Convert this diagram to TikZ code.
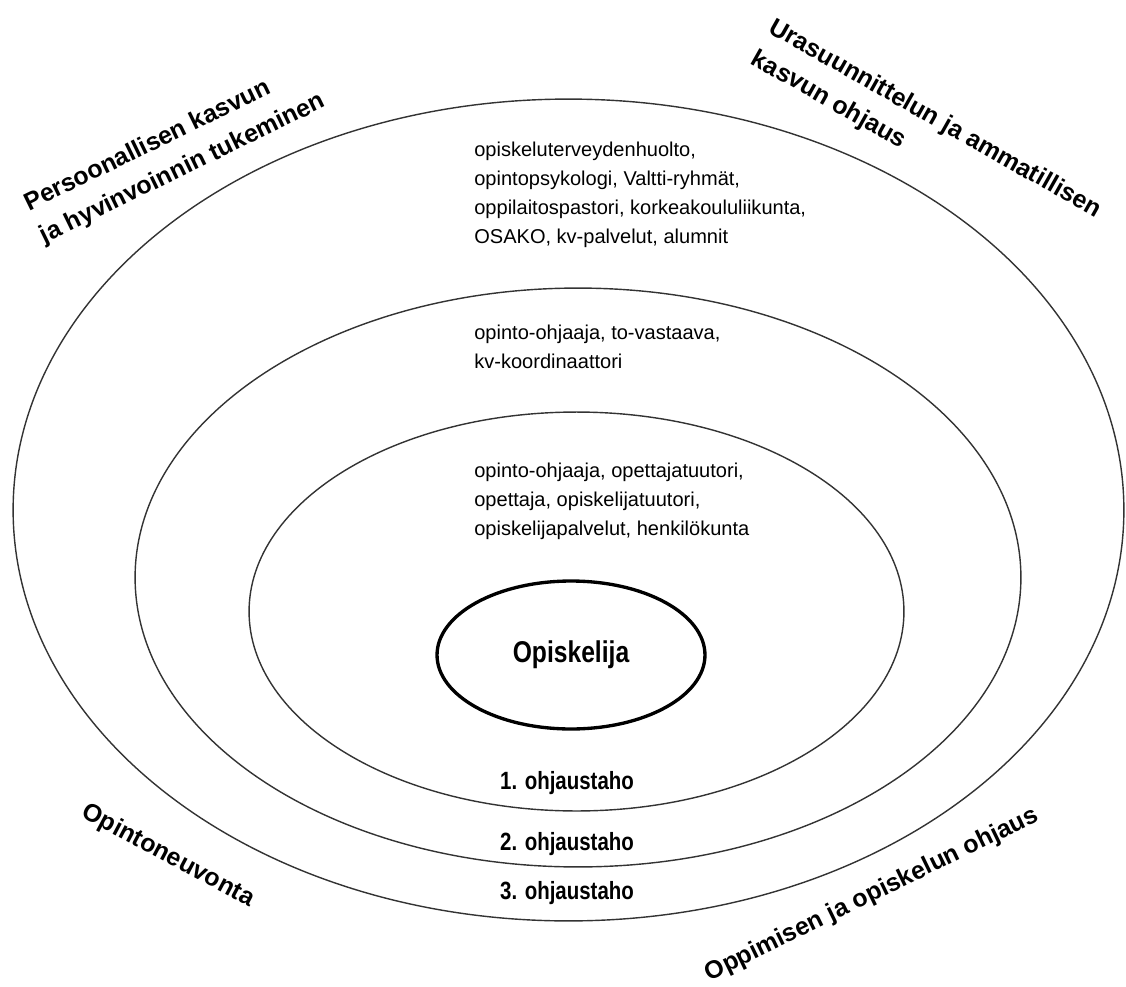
\documentclass[tikz,border=0pt]{standalone}
\usepackage{fontspec}
\setmainfont{Liberation Sans}
\newfontfamily\narrowfont[FakeStretch=0.82]{Liberation Sans}
\usetikzlibrary{shapes.geometric}
\tikzset{
  ring/.style={ellipse,draw=black!80,line width=0.8pt,inner sep=0pt},
  core/.style={ellipse,draw=black,line width=1.9pt,inner sep=0pt,
    minimum width=5.36cm,minimum height=2.96cm,
    font=\narrowfont\bfseries\fontsize{17.1pt}{20pt}\selectfont},
  ringtext/.style={anchor=north west,inner sep=0pt,align=left,
    font=\fontsize{11.4pt}{16.4pt}\selectfont},
  levellabel/.style={inner sep=0pt,
    font=\narrowfont\bfseries\fontsize{14.2pt}{17pt}\selectfont},
  arealabel/.style={inner sep=0pt,align=left,
    font=\bfseries\fontsize{14.2pt}{20.5pt}\selectfont}
}
\begin{document}
\begin{tikzpicture}[x=0.02cm,y=-0.02cm]
      \useasboundingbox (0,0) rectangle (1126,987);
      \node[ring,minimum width=22.22cm,minimum height=16.44cm] (outer) at (568.5,510) {};
      \node[ring,minimum width=17.72cm,minimum height=11.58cm] (middle) at (578,577.5) {};
      \node[ring,minimum width=13.1cm,minimum height=7.98cm] (inner) at (576.5,611.5) {};
      \node[core] (student) at (571,655) {Opiskelija};
      \node[ringtext] (third) at (474,141.7) {opiskeluterveydenhuolto,\\opintopsykologi, Valtti-ryhmät,\\oppilaitospastori, korkeakoululiikunta,\\OSAKO, kv-palvelut, alumnit};
      \node[ringtext] (second) at (474,324.7) {opinto-ohjaaja, to-vastaava,\\kv-koordinaattori};
      \node[ringtext] (first) at (474,462.7) {opinto-ohjaaja, opettajatuutori,\\opettaja, opiskelijatuutori,\\opiskelijapalvelut, henkilökunta};
      \node[levellabel] (level1) at (567,783.5) {1. ohjaustaho};
      \node[levellabel] (level2) at (567,844.5) {2. ohjaustaho};
      \node[levellabel] (level3) at (567,893.5) {3. ohjaustaho};
      \node[arealabel,rotate=26] (personal) at (175,153) {Persoonallisen kasvun\\ja hyvinvoinnin tukeminen};
      \node[arealabel,rotate=-29.5] (career) at (926,135) {Urasuunnittelun ja ammatillisen\\kasvun ohjaus};
      \node[arealabel,rotate=-28] (advice) at (168,856) {Opintoneuvonta};
      \node[arealabel,rotate=26] (learning) at (872,895) {Oppimisen ja opiskelun ohjaus};
    \end{tikzpicture}
\end{document}
